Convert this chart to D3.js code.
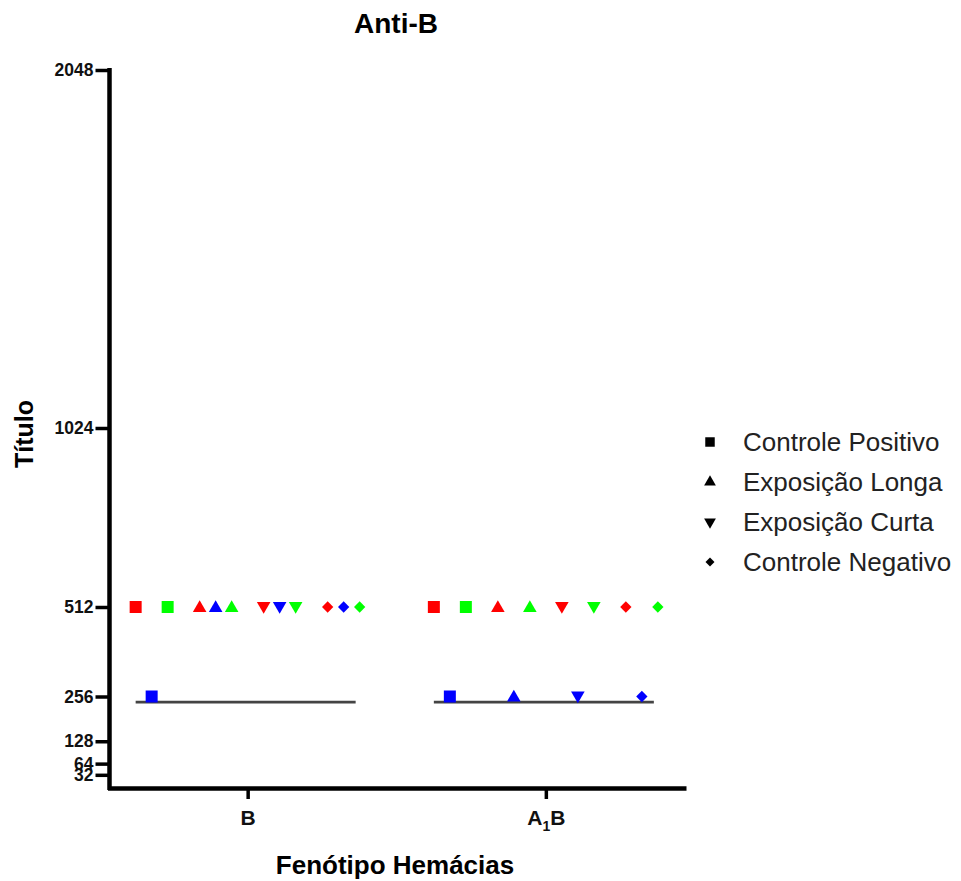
<!DOCTYPE html>
<html lang="pt">
<head>
    <meta charset="UTF-8">
    <title>Anti-B</title>
    <script src="https://d3js.org/d3.v7.min.js"></script>
    <style>
        body { margin: 0; background: #fff; }
        text { font-family: "Liberation Sans", Arial, sans-serif; }
    </style>
</head>
<body>
    <div id="chart"></div>
    <script>
        // data
        const groups = ["B", "A1B"];
        const series = ["Controle Positivo", "Exposição Longa", "Exposição Curta", "Controle Negativo"];
        const replicates = ["r1", "r2", "r3"];
        const repColors = ["#ff0000", "#0000ff", "#00ff00"];
        // values[group][series] = [red, blue, green]
        const valuesB = [[512, 256, 512], [512, 512, 512], [512, 512, 512], [512, 512, 512]];
        const valuesA1B = [[512, 256, 512], [512, 256, 512], [512, 256, 512], [512, 256, 512]];
        const lineValues = [240, 240];
        const yTicks = [32, 64, 128, 256, 512, 1024, 2048];

        const width = 961, height = 881;

        const svg = d3.select("#chart").append("svg")
            .attr("width", width)
            .attr("height", height);

        const y = d3.scaleLinear().domain([0, 2048]).range([786, 70]);
        const x = d3.scalePoint().domain(groups).range([107.5, 686]).padding(0.47);
        const xs = d3.scaleBand().domain(series).range([-128, 128]);
        const xr = d3.scalePoint().domain(replicates).range([-16, 16]);

        const shapes = [
            d3.symbol().type(d3.symbolSquare),
            d3.symbol().type(d3.symbolTriangle),
            d3.symbol().type(d3.symbolTriangle),
            d3.symbol().type(d3.symbolSquare)
        ];
        const sizes = [144, 80, 80, 64];
        const rotations = [0, 0, 180, 45];

        const points = [];
        [valuesB, valuesA1B].forEach((gv, gi) => {
            gv.forEach((vals, si) => {
                vals.forEach((v, ri) => {
                    points.push({ g: groups[gi], s: si, r: ri, v: v });
                });
            });
        });

        // title
        svg.append("text")
            .attr("x", 396).attr("y", 33)
            .attr("text-anchor", "middle")
            .style("font-size", "28px").style("font-weight", "bold")
            .text("Anti-B");

        // horizontal lines
        svg.append("g").selectAll("line")
            .data(groups)
            .enter().append("line")
            .attr("x1", d => x(d) + xs(series[0]) + xs.bandwidth() / 2 + xr("r1"))
            .attr("x2", d => x(d) + xs(series[3]) + xs.bandwidth() / 2 + xr("r3") - 4)
            .attr("y1", (d, i) => y(lineValues[i]))
            .attr("y2", (d, i) => y(lineValues[i]))
            .attr("stroke", "#444")
            .attr("stroke-width", 2.6);

        // points
        svg.append("g").selectAll("path")
            .data(points)
            .enter().append("path")
            .attr("d", d => shapes[d.s].size(sizes[d.s])())
            .attr("fill", d => repColors[d.r])
            .attr("transform", d => {
                const px = x(d.g) + xs(series[d.s]) + xs.bandwidth() / 2 + xr(replicates[d.r]);
                const dy = d.s === 1 ? 1 : d.s === 2 ? -1 : 0;
                return `translate(${px},${y(d.v) + dy}) rotate(${rotations[d.s]})`;
            });

        // y axis
        const yAxis = svg.append("g")
            .attr("transform", "translate(109.5,0)")
            .call(d3.axisLeft(y).tickValues(yTicks).tickFormat(d3.format("d"))
                .tickSize(14).tickSizeOuter(0).tickPadding(2));
        yAxis.select(".domain").attr("stroke", "#000").attr("stroke-width", 4.5)
            .attr("d", `M0,${y(0) + 4}V${y(2048) - 2}`);
        yAxis.selectAll(".tick line").attr("stroke", "#000").attr("stroke-width", 3.5);
        yAxis.selectAll(".tick text")
            .attr("fill", "#111")
            .style("font-size", "17.5px").style("font-weight", "bold")
            .style("font-family", "'Liberation Sans', Arial, sans-serif");

        // x axis
        const xAxis = svg.append("g")
            .attr("transform", "translate(0,788)")
            .call(d3.axisBottom(x).tickSize(11).tickSizeOuter(0).tickPadding(6));
        xAxis.select(".domain").attr("stroke", "#000").attr("stroke-width", 4.5);
        xAxis.selectAll(".tick line").attr("stroke", "#000").attr("stroke-width", 3.5);
        xAxis.selectAll(".tick text").remove();
        xAxis.selectAll(".tick").each(function (d) {
            const t = d3.select(this).append("text")
                .attr("y", 37)
                .attr("text-anchor", "middle")
                .attr("fill", "#111")
                .style("font-size", "21px").style("font-weight", "bold")
                .style("font-family", "'Liberation Sans', Arial, sans-serif");
            if (d === "A1B") {
                t.append("tspan").text("A");
                t.append("tspan").attr("dy", 6).style("font-size", "14px").text("1");
                t.append("tspan").attr("dy", -6).text("B");
            } else {
                t.text(d);
            }
        });

        // axis titles
        svg.append("text")
            .attr("x", 395).attr("y", 874)
            .attr("text-anchor", "middle")
            .style("font-size", "26px").style("font-weight", "bold")
            .text("Fenótipo Hemácias");

        svg.append("text")
            .attr("transform", "translate(33,434) rotate(-90)")
            .attr("text-anchor", "middle")
            .style("font-size", "25px").style("font-weight", "bold")
            .text("Título");

        // legend
        const legend = svg.append("g").attr("transform", "translate(710,442)");
        const legendSizes = [90, 60, 60, 40];
        const item = legend.selectAll("g")
            .data(series)
            .enter().append("g")
            .attr("transform", (d, i) => `translate(0,${i * 40})`);
        item.append("path")
            .attr("d", (d, i) => shapes[i].size(legendSizes[i])())
            .attr("transform", (d, i) => `rotate(${rotations[i]})`)
            .attr("fill", "#000");
        item.append("text")
            .attr("x", 33).attr("y", 9)
            .attr("fill", "#222")
            .style("font-size", "26px")
            .text(d => d);
    </script>
</body>
</html>
